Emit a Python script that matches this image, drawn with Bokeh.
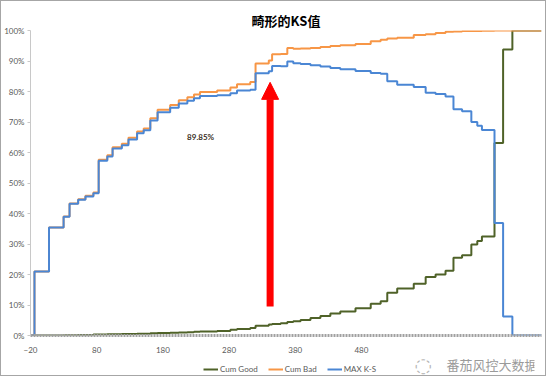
from bokeh.plotting import figure
from bokeh.layouts import column
from bokeh.models import (Range1d, FixedTicker, PrintfTickFormatter, Label, Arrow,
                          NormalHead, Legend)
from bokeh.embed import file_html
from bokeh.resources import INLINE

# ---- data ----
score = [-20, -14, 8, 30, 39, 52, 63, 75, 83, 96, 104, 118, 128, 141, 151, 161, 172,
         191, 204, 217, 227, 236, 262, 282, 292, 312, 320, 340, 345, 358, 368, 377,
         388, 403, 418, 433, 448, 471, 494, 509, 519, 534, 559, 577, 592, 607, 619,
         632, 646, 655, 662, 681, 694, 708, 752]
cum_good = [0, 0, 0, 0.1, 0.1, 0.2, 0.2, 0.3, 0.3, 0.4, 0.4, 0.5, 0.5, 0.6, 0.6, 0.7,
            0.8, 0.9, 1.0, 1.1, 1.2, 1.3, 1.5, 1.9, 2.1, 2.5, 3.2, 3.6, 3.8, 4.0, 4.4,
            4.7, 5.1, 5.7, 6.4, 7.2, 7.9, 8.9, 10.4, 11.2, 14.0, 15.4, 17.0, 19.2,
            20.0, 21.2, 25.5, 26.3, 29.8, 31.0, 32.5, 63.1, 93.8, 100, 100]
cum_bad = [0, 21.0, 35.4, 39.0, 43.3, 44.7, 45.8, 46.9, 57.6, 59.1, 61.7, 62.9, 64.8,
           66.9, 67.9, 71.2, 74.0, 75.6, 77.1, 78.1, 79.0, 79.8, 80.3, 81.3, 82.4,
           83.1, 89.2, 90.2, 92.2, 92.3, 94.25, 94.0, 94.1, 94.3, 94.6, 94.9, 95.2,
           95.6, 96.5, 97.0, 97.4, 97.6, 98.5, 98.8, 99.2, 99.6, 99.7, 99.8, 99.8,
           99.8, 99.9, 100, 100, 100, 100]
max_ks = [0, 21.0, 35.4, 38.9, 43.2, 44.5, 45.6, 46.6, 57.3, 58.7, 61.3, 62.4, 64.3,
          66.3, 67.3, 70.5, 73.2, 74.7, 76.1, 77.0, 77.8, 78.5, 78.8, 79.4, 80.3,
          80.6, 86.0, 86.6, 88.4, 88.3, 89.85, 89.3, 89.0, 88.6, 88.2, 87.7, 87.3,
          86.7, 86.1, 85.8, 83.4, 82.2, 81.5, 79.6, 79.2, 78.4, 74.2, 73.5, 70.0,
          68.8, 67.4, 36.9, 6.2, 0, 0]
x_ticks = [-20, 80, 180, 280, 380, 480]
y_ticks = [0, 10, 20, 30, 40, 50, 60, 70, 80, 90, 100]
series_names = ["Cum Good", "Cum Bad", "MAX K-S"]
colors = ["#4f6228", "#f79646", "#4a86d4"]
title_text = "畸形的KS值"
ks_text = "89.85%"
watermark = "番茄风控大数据"

p = figure(frame_width=511, frame_height=305, output_backend="svg",
           toolbar_location=None,
           x_range=Range1d(-20, 752), y_range=Range1d(0, 100),
           min_border_left=22, min_border_right=4, min_border_top=29,
           min_border_bottom=0)
p.outline_line_color = None
p.xgrid.visible = False
p.ygrid.visible = False

p.title.text = title_text
p.title.align = "center"
p.title.text_font = "Noto Sans CJK SC"
p.title.text_font_size = "13px"
p.title.text_font_style = "bold"
p.title.text_color = "#000000"
p.title.standoff = 2

r_good = p.step(score, cum_good, mode="after", line_color=colors[0], line_width=2)
r_bad = p.step(score, cum_bad, mode="after", line_color=colors[1], line_width=2)
r_ks = p.step(score, max_ks, mode="after", line_color=colors[2], line_width=2)

# axes
p.xaxis.ticker = FixedTicker(ticks=x_ticks)
p.yaxis.ticker = FixedTicker(ticks=y_ticks)
p.yaxis.formatter = PrintfTickFormatter(format="%d%%")
for ax in (p.xaxis[0], p.yaxis[0]):
    ax.major_label_text_font = "Lato"
    ax.major_label_text_font_size = "8px"
    ax.major_label_text_color = "#595959"
    ax.minor_tick_line_color = None
p.xaxis.axis_line_color = "#a0a0a0"
p.xaxis.axis_line_width = 3
p.xaxis.axis_line_dash = "2 1"
p.xaxis.major_tick_line_color = None
p.xaxis.major_label_standoff = 5
p.yaxis.axis_line_color = "#c8c8c8"
p.yaxis.major_tick_line_color = "#c8c8c8"
p.yaxis.major_tick_in = 0
p.yaxis.major_tick_out = 3
p.yaxis.major_label_standoff = 3

# annotation label and arrow
p.add_layout(Label(x=237, y=65, text=ks_text, text_font="Lato", text_font_size="8px",
                   text_font_style="bold", text_color="#3b3024", text_align="center",
                   text_baseline="middle"))
p.add_layout(Arrow(end=NormalHead(size=17, fill_color="#ff0000", line_color="#ff0000"),
                   x_start=342, y_start=9.5, x_end=342, y_end=83,
                   line_color="#ff0000", line_width=7))

# ---- strip below the chart: legend + watermark ----
# the same series are drawn here with a view range that lies outside the data,
# so only their legend swatches show
p2 = figure(width=537, height=20, output_backend="svg", toolbar_location=None,
            x_axis_type=None, y_axis_type=None, min_border=0,
            x_range=Range1d(-20, 752), y_range=Range1d(200, 201))
p2.outline_line_color = None
p2.xgrid.visible = False
p2.ygrid.visible = False
s_good = p2.line(score, cum_good, line_color=colors[0], line_width=2)
s_bad = p2.line(score, cum_bad, line_color=colors[1], line_width=2)
s_ks = p2.line(score, max_ks, line_color=colors[2], line_width=2)
legend = Legend(items=[(series_names[0], [s_good]), (series_names[1], [s_bad]),
                       (series_names[2], [s_ks])],
                orientation="horizontal", location=(173, 1),
                label_text_font="Lato", label_text_font_size="8px",
                label_text_color="#595959", glyph_width=15, glyph_height=8,
                label_standoff=2, spacing=10, padding=0, margin=0,
                border_line_color=None, background_fill_color=None,
                label_height=8)
p2.add_layout(legend)
p2.add_layout(Label(x=384, y=11, x_units="screen", y_units="screen", text="◌",
                    text_font="DejaVu Sans", text_font_size="20px",
                    text_color="#b4b4b4", text_baseline="middle"))
p2.add_layout(Label(x=416, y=11, x_units="screen", y_units="screen", text=watermark,
                    text_font="Noto Sans CJK SC", text_font_size="13px",
                    text_color="#9a9a9a", text_baseline="middle"))

layout = column(p, p2, spacing=0)
layout.styles = {"border": "1px solid #a6a6a6"}

open("out.html", "w").write(file_html(layout, INLINE))
